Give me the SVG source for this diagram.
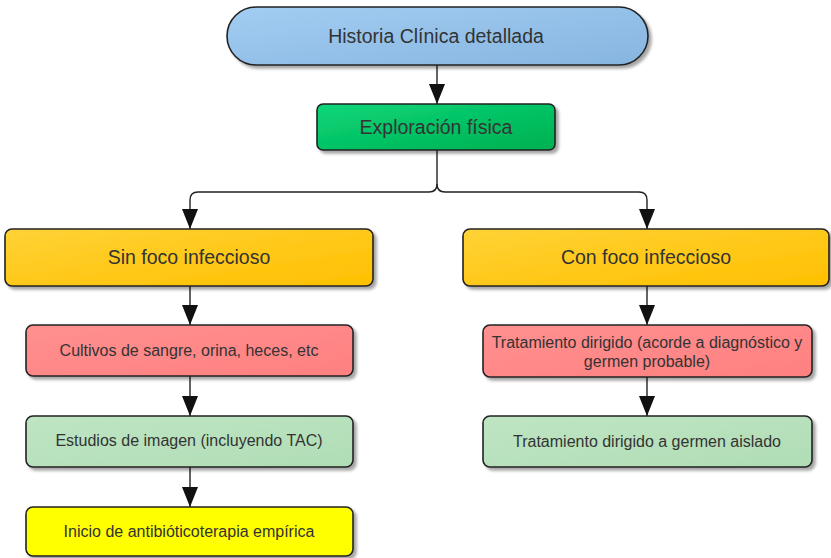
<svg xmlns="http://www.w3.org/2000/svg" width="831" height="558" viewBox="0 0 831 558">
<style>
.box{stroke:#222;stroke-width:1.6;filter:url(#sh)}
.t{font-family:"Liberation Sans",Arial,sans-serif;fill:#333;text-anchor:middle}
.big{font-size:19.5px}
.small{font-size:16px}
.con{fill:none;stroke:#222;stroke-width:1.4}
</style>
<defs>
<filter id="sh" x="-5%" y="-10%" width="115%" height="130%">
<feGaussianBlur in="SourceAlpha" stdDeviation="1.5"/>
<feOffset dx="2.5" dy="2.5" result="b"/>
<feComponentTransfer><feFuncA type="linear" slope="0.35"/></feComponentTransfer>
<feMerge><feMergeNode/><feMergeNode in="SourceGraphic"/></feMerge>
</filter>
<linearGradient id="gBlue" x1="0" y1="0" x2="1" y2="1"><stop offset="0" stop-color="#a3cdf2"/><stop offset="1" stop-color="#86b5e0"/></linearGradient>
<linearGradient id="gGreen" x1="0" y1="0" x2="1" y2="1"><stop offset="0" stop-color="#0ad67a"/><stop offset="1" stop-color="#00b050"/></linearGradient>
<linearGradient id="gOrange" x1="0" y1="0" x2="1" y2="1"><stop offset="0" stop-color="#ffd236"/><stop offset="1" stop-color="#ffc000"/></linearGradient>
<linearGradient id="gRed" x1="0" y1="0" x2="1" y2="1"><stop offset="0" stop-color="#ff9090"/><stop offset="1" stop-color="#ff8080"/></linearGradient>
<linearGradient id="gLG" x1="0" y1="0" x2="1" y2="1"><stop offset="0" stop-color="#bfe5c3"/><stop offset="1" stop-color="#b0ddb5"/></linearGradient>
<marker id="arr" viewBox="0 0 20 16" refX="20" refY="8" markerWidth="20" markerHeight="16" markerUnits="userSpaceOnUse" orient="auto">
<path d="M0,0 L20,8 L0,16 z" fill="#111"/>
</marker>
</defs>
<g id="connectors">
<path class="con" d="M437,65 V104" marker-end="url(#arr)"/>
<path class="con" d="M437,150 V184 Q437,192 429,192 H198 Q190,192 190,200 V229" marker-end="url(#arr)"/>
<path class="con" d="M437,184 Q437,192 445,192 H639 Q647,192 647,200 V229" marker-end="url(#arr)"/>
<path class="con" d="M190,286 V325" marker-end="url(#arr)"/>
<path class="con" d="M190,376 V416" marker-end="url(#arr)"/>
<path class="con" d="M190,467 V507" marker-end="url(#arr)"/>
<path class="con" d="M647,286 V325" marker-end="url(#arr)"/>
<path class="con" d="M647,377 V416" marker-end="url(#arr)"/>
</g>
<g id="historia">
<rect class="box" x="227" y="7" width="421" height="58" rx="29" fill="url(#gBlue)"/>
<text class="t big" x="436" y="43">Historia Clínica detallada</text>
</g>
<g id="exploracion">
<rect class="box" x="317" y="104" width="238" height="46" rx="6" fill="url(#gGreen)"/>
<text class="t big" x="436" y="133.5">Exploración física</text>
</g>
<g id="sinfoco">
<rect class="box" x="5" y="229" width="368" height="57" rx="7" fill="url(#gOrange)"/>
<text class="t big" x="189" y="264">Sin foco infeccioso</text>
</g>
<g id="confoco">
<rect class="box" x="463" y="229" width="366" height="57" rx="7" fill="url(#gOrange)"/>
<text class="t big" x="646" y="264">Con foco infeccioso</text>
</g>
<g id="cultivos">
<rect class="box" x="26" y="325" width="327" height="51" rx="7" fill="url(#gRed)"/>
<text class="t small" x="189" y="356">Cultivos de sangre, orina, heces, etc</text>
</g>
<g id="estudios">
<rect class="box" x="26" y="416" width="327" height="51" rx="7" fill="url(#gLG)"/>
<text class="t small" x="189" y="446">Estudios de imagen (incluyendo TAC)</text>
</g>
<g id="inicio">
<rect class="box" x="26" y="507" width="327" height="49" rx="7" fill="#ffff00"/>
<text class="t small" x="189" y="537">Inicio de antibióticoterapia empírica</text>
</g>
<g id="tratamiento1">
<rect class="box" x="483" y="325" width="329" height="52" rx="7" fill="url(#gRed)"/>
<text class="t small" x="647" y="347.5">Tratamiento dirigido (acorde a diagnóstico y</text>
<text class="t small" x="647" y="367">germen probable)</text>
</g>
<g id="tratamiento2">
<rect class="box" x="483" y="416" width="329" height="51" rx="7" fill="url(#gLG)"/>
<text class="t small" x="647" y="447">Tratamiento dirigido a germen aislado</text>
</g>
</svg>
